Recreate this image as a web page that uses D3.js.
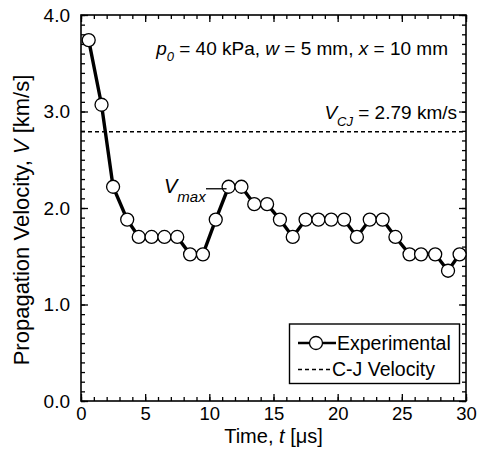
<!DOCTYPE html>
<html>
<head>
<meta charset="utf-8">
<script src="https://cdn.jsdelivr.net/npm/d3@7"></script>
<style>
body { margin: 0; background: #fff; }
text { font-family: "Liberation Sans", Arial, sans-serif; fill: #000; }
</style>
</head>
<body>
<svg id="chart" width="477" height="470"></svg>
<script>
// time [us] and propagation velocity [km/s]
const times = [0.6, 1.6, 2.5, 3.6, 4.5, 5.5, 6.5, 7.5, 8.5, 9.5, 10.5, 11.5, 12.5, 13.5, 14.5,
    15.5, 16.5, 17.5, 18.5, 19.5, 20.5, 21.5, 22.5, 23.5, 24.5, 25.6, 26.5, 27.6, 28.6, 29.5];
const velocities = [3.74, 3.07, 2.22, 1.88, 1.70, 1.70, 1.70, 1.70, 1.52, 1.52, 1.88, 2.22, 2.22, 2.04, 2.04,
    1.88, 1.70, 1.88, 1.88, 1.88, 1.88, 1.70, 1.88, 1.88, 1.70, 1.52, 1.52, 1.52, 1.35, 1.52];
const vCJ = 2.79;
const vmaxIndex = 11;

const xTicks = [0, 5, 10, 15, 20, 25, 30];
const xMinor = d3.range(0, 31, 1);
const yTicks = [0, 1, 2, 3, 4];
const yMinor = d3.range(0, 41, 1).map(function(d) { return d / 10; });

const plotL = 81, plotR = 466, plotT = 15, plotB = 401;

const svg = d3.select("#chart");

const x = d3.scaleLinear().domain([0, 30]).range([plotL, plotR]);
const y = d3.scaleLinear().domain([0, 4]).range([plotB, plotT]);

// frame
svg.append("rect")
    .attr("x", plotL).attr("y", plotT)
    .attr("width", plotR - plotL).attr("height", plotB - plotT)
    .attr("fill", "none").attr("stroke", "#000").attr("stroke-width", 1.6);

function styleAxis(g) {
    g.select(".domain").remove();
    g.selectAll("line").attr("stroke", "#000").attr("stroke-width", 1.3);
    g.selectAll("text").attr("font-size", 19).attr("fill", "#000");
}

// minor ticks, all four sides
svg.append("g").attr("transform", "translate(0," + plotB + ")")
    .call(d3.axisBottom(x).tickValues(xMinor).tickSize(-4).tickFormat("")).call(styleAxis);
svg.append("g").attr("transform", "translate(0," + plotT + ")")
    .call(d3.axisTop(x).tickValues(xMinor).tickSize(-4).tickFormat("")).call(styleAxis);
svg.append("g").attr("transform", "translate(" + plotL + ",0)")
    .call(d3.axisLeft(y).tickValues(yMinor).tickSize(-4).tickFormat("")).call(styleAxis);
svg.append("g").attr("transform", "translate(" + plotR + ",0)")
    .call(d3.axisRight(y).tickValues(yMinor).tickSize(-4).tickFormat("")).call(styleAxis);

// major ticks
svg.append("g").attr("transform", "translate(0," + plotB + ")")
    .call(d3.axisBottom(x).tickValues(xTicks).tickSize(-7).tickPadding(6).tickFormat(d3.format("d")))
    .call(styleAxis)
    .selectAll("text").attr("font-size", 18.5);
svg.append("g").attr("transform", "translate(0," + plotT + ")")
    .call(d3.axisTop(x).tickValues(xTicks).tickSize(-7).tickFormat("")).call(styleAxis);
svg.append("g").attr("transform", "translate(" + plotL + ",0)")
    .call(d3.axisLeft(y).tickValues(yTicks).tickSize(-7).tickPadding(11).tickFormat(d3.format(".1f")))
    .call(styleAxis);
svg.append("g").attr("transform", "translate(" + plotR + ",0)")
    .call(d3.axisRight(y).tickValues(yTicks).tickSize(-7).tickFormat("")).call(styleAxis);

// C-J line
svg.append("line")
    .attr("x1", plotL).attr("x2", plotR)
    .attr("y1", y(vCJ)).attr("y2", y(vCJ))
    .attr("stroke", "#000").attr("stroke-width", 1.3).attr("stroke-dasharray", "4,3");

// experimental series
const points = times.map(function(t, i) { return [t, velocities[i]]; });
const line = d3.line().x(function(d) { return x(d[0]); }).y(function(d) { return y(d[1]); });

svg.append("path")
    .datum(points)
    .attr("d", line)
    .attr("fill", "none").attr("stroke", "#000").attr("stroke-width", 3.4);

svg.selectAll("circle.pt")
    .data(points)
    .enter()
    .append("circle")
    .attr("class", "pt")
    .attr("cx", function(d) { return x(d[0]); })
    .attr("cy", function(d) { return y(d[1]); })
    .attr("r", 6.5)
    .attr("fill", "#fff").attr("stroke", "#000").attr("stroke-width", 1.3);

// annotations
const ann = svg.append("text").attr("x", 448).attr("y", 55)
    .attr("text-anchor", "end").attr("font-size", 19);
ann.append("tspan").attr("font-style", "italic").text("p");
ann.append("tspan").attr("font-style", "italic").attr("font-size", 13).attr("dy", 6).text("0");
ann.append("tspan").attr("dy", -6).text(" = 40 kPa, ");
ann.append("tspan").attr("font-style", "italic").text("w");
ann.append("tspan").text(" = 5 mm, ");
ann.append("tspan").attr("font-style", "italic").text("x");
ann.append("tspan").text(" = 10 mm");

const cj = svg.append("text").attr("x", 457).attr("y", 119)
    .attr("text-anchor", "end").attr("font-size", 19);
cj.append("tspan").attr("font-style", "italic").text("V");
cj.append("tspan").attr("font-style", "italic").attr("font-size", 13).attr("dy", 7).text("CJ");
cj.append("tspan").attr("dy", -7).text(" = 2.79 km/s");

const vm = svg.append("text").attr("x", 164).attr("y", 193).attr("font-size", 20);
vm.append("tspan").attr("font-style", "italic").text("V");
vm.append("tspan").attr("font-style", "italic").attr("font-size", 15).attr("dy", 9).text("max");

svg.append("line")
    .attr("x1", 206).attr("x2", x(times[vmaxIndex]) - 2)
    .attr("y1", y(velocities[vmaxIndex]) + 2).attr("y2", y(velocities[vmaxIndex]) + 2)
    .attr("stroke", "#000").attr("stroke-width", 1.3);

// axis titles
svg.append("text")
    .attr("x", (plotL + plotR) / 2).attr("y", 442.5)
    .attr("text-anchor", "middle").attr("font-size", 20)
    .html('Time, <tspan font-style="italic">t</tspan> [\u03bcs]');

svg.append("text")
    .attr("transform", "translate(29,220) rotate(-90)")
    .attr("text-anchor", "middle").attr("font-size", 22)
    .html('Propagation Velocity, <tspan font-style="italic">V</tspan> [km/s]');

// legend
const lg = svg.append("g");
lg.append("rect")
    .attr("x", 289.5).attr("y", 324)
    .attr("width", 170).attr("height", 59.5)
    .attr("fill", "#fff").attr("stroke", "#000").attr("stroke-width", 1.4);
lg.append("line")
    .attr("x1", 298).attr("x2", 336).attr("y1", 343).attr("y2", 343)
    .attr("stroke", "#000").attr("stroke-width", 2.4);
lg.append("circle")
    .attr("cx", 316).attr("cy", 343).attr("r", 6.5)
    .attr("fill", "#fff").attr("stroke", "#000").attr("stroke-width", 1.3);
lg.append("text").attr("x", 337).attr("y", 349.5).attr("font-size", 19.5).text("Experimental");
lg.append("line")
    .attr("x1", 298).attr("x2", 330).attr("y1", 369.5).attr("y2", 369.5)
    .attr("stroke", "#000").attr("stroke-width", 1.3).attr("stroke-dasharray", "4,3");
lg.append("text").attr("x", 332).attr("y", 376).attr("font-size", 19.5).text("C-J Velocity");
</script>
</body>
</html>
